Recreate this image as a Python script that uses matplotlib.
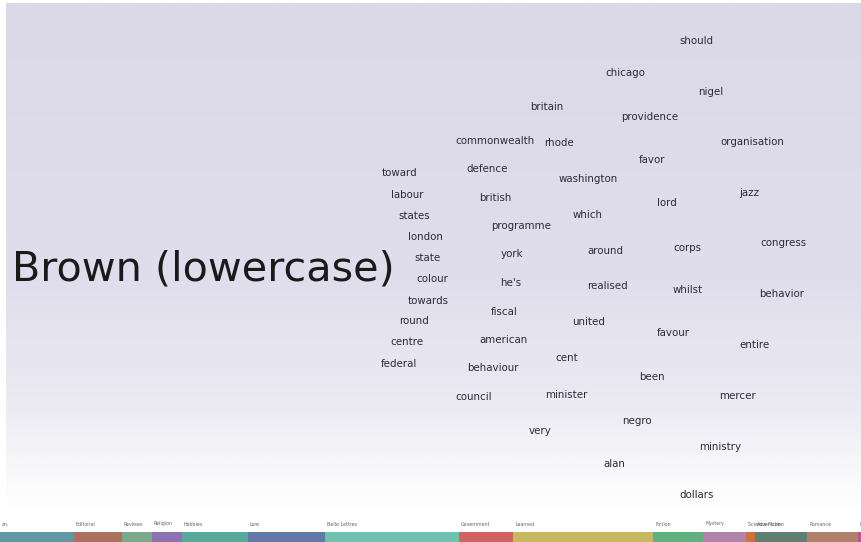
import numpy as np
import matplotlib
matplotlib.use("Agg")
import matplotlib.pyplot as plt
from matplotlib.colors import LinearSegmentedColormap

# word embedding positions (screen units)
words = ["should", "chicago", "nigel", "britain", "providence", "commonwealth",
         "rhode", "organisation", "favor", "toward", "defence", "washington",
         "labour", "british", "lord", "jazz", "states", "which", "programme",
         "london", "york", "around", "corps", "congress", "state", "colour",
         "he's", "realised", "whilst", "behavior", "towards", "fiscal", "round",
         "united", "favour", "centre", "american", "entire", "federal", "cent",
         "behaviour", "been", "council", "minister", "mercer", "negro", "very",
         "ministry", "alan", "dollars"]
wordX = [696, 625, 711, 547, 650, 495, 559, 752, 652, 399, 487, 588,
         407, 495, 667, 749, 414, 588, 521, 425, 512, 605, 687, 783, 428, 432,
         511, 607, 688, 782, 428, 504, 414, 589, 673, 407, 503, 754, 399, 567,
         493, 652, 474, 566, 737, 637, 540, 720, 614, 697]
wordY = [41, 73, 92, 107, 117, 141, 143, 142, 160, 173, 169, 179,
         195, 198, 203, 193, 216, 215, 226, 237, 254, 251, 248, 243, 258, 279,
         283, 286, 290, 294, 301, 312, 321, 322, 333, 342, 340, 345, 364, 358,
         368, 377, 397, 395, 396, 421, 431, 447, 464, 495]

# genre strip along the bottom
genres = ["an.", "Editorial", "Reviews", "Religion", "Hobbies", "Lore",
          "Belle Lettres", "Government", "Learned", "Fiction", "Mystery",
          "Science Fiction", "Adventure", "Romance", "Humor"]
genreStart = [-30, 74, 122, 152, 182, 248, 325, 459, 513, 653, 703, 746, 755, 807, 858]
genreEnd = [74, 122, 152, 182, 248, 325, 459, 513, 653, 703, 746, 755, 807, 858, 900]
genreColors = ["#5f97a2", "#ad705e", "#7aaa8c", "#8b72b0", "#5aa89c", "#6178a8",
               "#72c0b0", "#d06262", "#c9b862", "#62b07e", "#b182aa", "#d07040",
               "#5f8070", "#b0806a", "#c05090"]

W, H = 861, 542
fig = plt.figure(figsize=(W / 100, H / 100), dpi=100)
ax = fig.add_axes([0, 0, 1, 1])
ax.set_xlim(0, W)
ax.set_ylim(H, 0)
ax.axis("off")

# lavender-to-white background
cmap = LinearSegmentedColormap.from_list(
    "bg", [(0.0, "#dbd8e8"), (0.55, "#e0deec"), (0.8, "#ecebf3"),
           (0.95, "#fbfbfc"), (1.0, "#ffffff")])
grad = np.linspace(0, 1, 256).reshape(-1, 1)
ax.imshow(grad, cmap=cmap, aspect="auto", extent=(6, W, 510, 3), zorder=0)

ax.text(12, 270, "Brown (lowercase)", fontsize=29.8, color="#1a1a1a",
        ha="left", va="center", family="DejaVu Sans")

for w, x, y in zip(words, wordX, wordY):
    ax.text(x, y, w, fontsize=7.4, color="#2a2a38", ha="center", va="center")

widths = [e - s for s, e in zip(genreStart, genreEnd)]
ax.barh(537, widths, left=genreStart, height=11, color=genreColors, zorder=2)
for g, s in zip(genres, genreStart):
    ax.text(max(s, 0) + 2, 524, g, fontsize=3.4, color="#666666",
            ha="left", va="center")

fig.savefig("out.png", dpi=100)
